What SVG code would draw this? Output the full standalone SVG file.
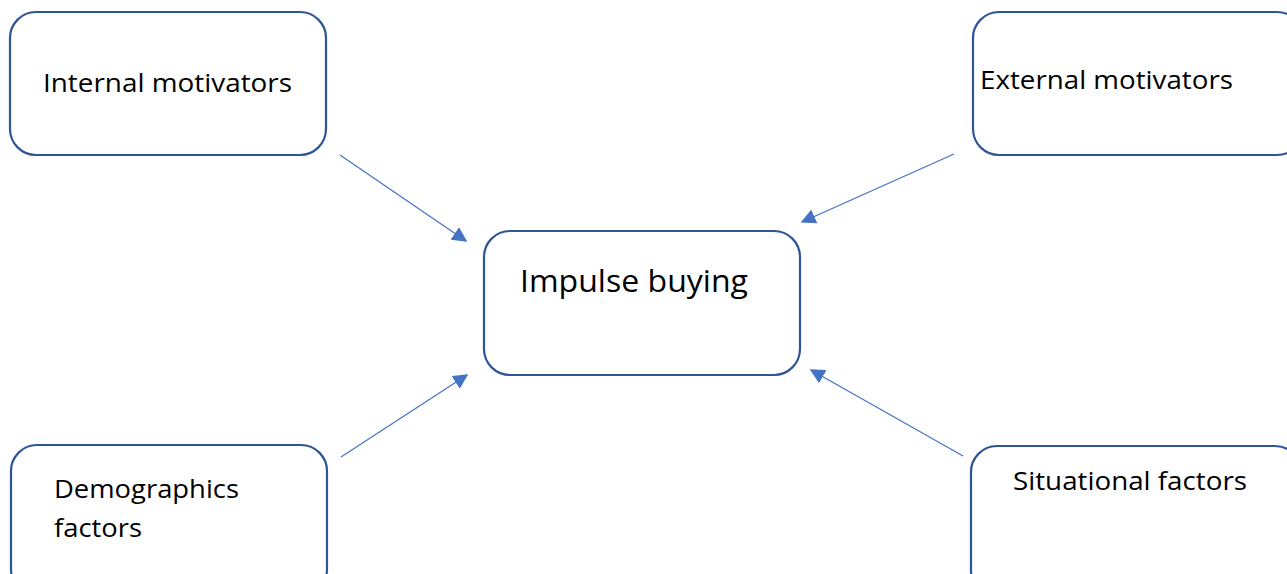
<svg xmlns="http://www.w3.org/2000/svg" width="1287" height="574" viewBox="0 0 1287 574">
  <defs>
    <style>
      .box { fill: #ffffff; stroke: #2F5597; stroke-width: 2.2; }
      .lbl { font-family: "Open Sans", "Liberation Sans", sans-serif; fill: #000000; }
      .link { stroke: #4472C4; stroke-width: 1.2; fill: none; marker-end: url(#head); }
    </style>
    <marker id="head" viewBox="0 0 10 10" refX="9" refY="5" markerWidth="15" markerHeight="15" markerUnits="userSpaceOnUse" orient="auto">
      <path d="M0,0 L10,5 L0,10 z" fill="#4472C4"/>
    </marker>
  </defs>
  <rect width="1287" height="574" fill="#ffffff"/>

  <g id="internal">
    <rect class="box" x="10" y="12" width="316" height="143" rx="26"/>
    <text class="lbl" x="43" y="92" font-size="26" textLength="249" lengthAdjust="spacingAndGlyphs">Internal motivators</text>
  </g>

  <g id="external">
    <rect class="box" x="973" y="12" width="330" height="143" rx="26"/>
    <text class="lbl" x="980" y="89" font-size="26" textLength="253" lengthAdjust="spacingAndGlyphs">External motivators</text>
  </g>

  <g id="impulse">
    <rect class="box" x="484" y="231" width="316" height="144" rx="26"/>
    <text class="lbl" x="520" y="292" font-size="31" textLength="228" lengthAdjust="spacingAndGlyphs">Impulse buying</text>
  </g>

  <g id="demographics">
    <rect class="box" x="11" y="445" width="316" height="150" rx="26"/>
    <text class="lbl" x="54" y="498" font-size="26" textLength="185" lengthAdjust="spacingAndGlyphs">Demographics</text>
    <text class="lbl" x="54" y="537" font-size="26" textLength="88" lengthAdjust="spacingAndGlyphs">factors</text>
  </g>

  <g id="situational">
    <rect class="box" x="971" y="446" width="330" height="150" rx="26"/>
    <text class="lbl" x="1013" y="490" font-size="26" textLength="234" lengthAdjust="spacingAndGlyphs">Situational factors</text>
  </g>

  <g id="connectors">
    <line class="link" x1="340" y1="155" x2="466" y2="241"/>
    <line class="link" x1="954" y1="154" x2="802" y2="222"/>
    <line class="link" x1="341" y1="457" x2="467" y2="375"/>
    <line class="link" x1="963" y1="456" x2="811" y2="370"/>
  </g>
</svg>
